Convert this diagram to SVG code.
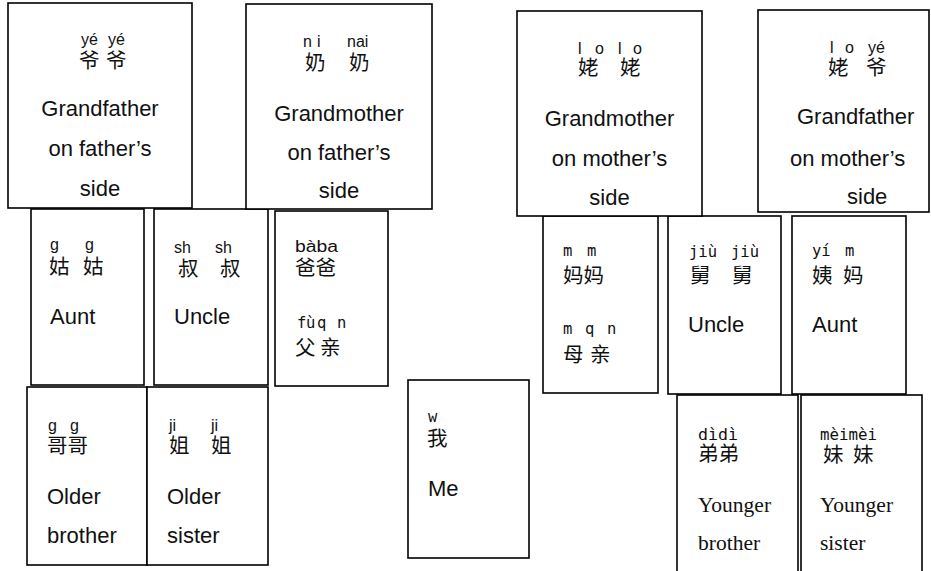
<svg xmlns="http://www.w3.org/2000/svg" width="931" height="571" viewBox="0 0 931 571">
<style>
.box{fill:#fff;stroke:#000;stroke-width:1.6}
.en{font-family:"Liberation Sans",Arial,sans-serif;font-size:22px;fill:#111}
.enc{font-family:"Liberation Sans",Arial,sans-serif;font-size:22px;fill:#111;text-anchor:middle}
.tr{font-family:"Liberation Serif","Times New Roman",serif;font-size:21.5px;fill:#111}
.zh{font-family:"Noto Sans CJK SC","Noto Sans CJK TC",sans-serif;font-size:20.5px;fill:#111}
.py{font-family:"Liberation Sans",Arial,sans-serif;font-size:16px;fill:#111}
.pm{font-family:"DejaVu Sans Mono",monospace;font-size:15.5px;fill:#111}
</style>
<rect width="931" height="571" fill="#fff"/>

<g id="gugu">
<rect class="box" x="31" y="209" width="113" height="176"/>
<text class="py" y="250"><tspan x="50">g</tspan><tspan x="85">g</tspan></text>
<text class="zh" y="274"><tspan x="49">姑</tspan><tspan x="83">姑</tspan></text>
<text class="en" x="50" y="324">Aunt</text>
</g>

<g id="shushu">
<rect class="box" x="154" y="209" width="114" height="176"/>
<text class="py" y="253" font-size="18"><tspan x="174">sh</tspan><tspan x="215">sh</tspan></text>
<text class="zh" y="276"><tspan x="178">叔</tspan><tspan x="220">叔</tspan></text>
<text class="en" x="174" y="324">Uncle</text>
</g>

<g id="baba">
<rect class="box" x="275" y="211" width="113" height="175"/>
<text class="py" x="295" y="252" font-size="18" textLength="43" lengthAdjust="spacingAndGlyphs">bàba</text>
<text class="zh" x="295" y="275" font-size="21.5">爸爸</text>
<text class="pm" y="328"><tspan x="297">f</tspan><tspan x="306">ù</tspan><tspan x="317">q</tspan><tspan x="337">n</tspan></text>
<text class="zh" y="355"><tspan x="295">父</tspan><tspan x="320">亲</tspan></text>
</g>

<g id="yeye">
<rect class="box" x="8" y="3" width="184" height="205"/>
<text class="py" y="45"><tspan x="81">yé</tspan><tspan x="108">yé</tspan></text>
<text class="zh" y="68"><tspan x="79">爷</tspan><tspan x="106">爷</tspan></text>
<text class="enc" x="100" y="116">Grandfather</text>
<text class="enc" x="100" y="156">on father’s</text>
<text class="enc" x="100" y="196">side</text>
</g>

<g id="nainai">
<rect class="box" x="246" y="4" width="186" height="205"/>
<text class="py" y="47" font-size="17"><tspan x="303">n</tspan><tspan x="317">i</tspan><tspan x="347">nai</tspan></text>
<text class="zh" y="70"><tspan x="305">奶</tspan><tspan x="349">奶</tspan></text>
<text class="enc" x="339" y="121">Grandmother</text>
<text class="enc" x="339" y="160">on father’s</text>
<text class="enc" x="339" y="198">side</text>
</g>

<g id="mama">
<rect class="box" x="543" y="216" width="115" height="177"/>
<text class="pm" y="256"><tspan x="563">m</tspan><tspan x="587">m</tspan></text>
<text class="zh" x="563" y="283" font-size="22">妈妈</text>
<text class="pm" y="334"><tspan x="563">m</tspan><tspan x="585">q</tspan><tspan x="607">n</tspan></text>
<text class="zh" y="362"><tspan x="563">母</tspan><tspan x="590">亲</tspan></text>
</g>

<g id="jiujiu">
<rect class="box" x="668" y="216" width="113" height="178"/>
<text class="pm" y="257"><tspan x="689">jiù</tspan><tspan x="731">jiù</tspan></text>
<text class="zh" y="283"><tspan x="690">舅</tspan><tspan x="732">舅</tspan></text>
<text class="en" x="688" y="332">Uncle</text>
</g>

<g id="yima">
<rect class="box" x="792" y="216" width="114" height="178"/>
<text class="pm" y="256"><tspan x="812">yí</tspan><tspan x="845">m</tspan></text>
<text class="zh" y="283"><tspan x="812">姨</tspan><tspan x="843">妈</tspan></text>
<text class="en" x="812" y="332">Aunt</text>
</g>

<g id="laolao">
<rect class="box" x="517" y="11" width="185" height="205"/>
<text class="py" y="54" font-size="17"><tspan x="578">l</tspan><tspan x="595">o</tspan><tspan x="618">l</tspan><tspan x="633">o</tspan></text>
<text class="zh" y="75"><tspan x="578">姥</tspan><tspan x="620">姥</tspan></text>
<text class="enc" x="609.5" y="126">Grandmother</text>
<text class="enc" x="609.5" y="166">on mother’s</text>
<text class="enc" x="609.5" y="205">side</text>
</g>

<g id="laoye">
<rect class="box" x="758" y="10" width="171" height="202"/>
<text class="py" y="53" font-size="17"><tspan x="830">l</tspan><tspan x="845">o</tspan><tspan x="868">yé</tspan></text>
<text class="zh" y="75"><tspan x="828">姥</tspan><tspan x="866">爷</tspan></text>
<text class="en" x="797" y="124">Grandfather</text>
<text class="en" x="790" y="166">on mother’s</text>
<text class="en" x="847" y="204">side</text>
</g>

<g id="gege">
<rect class="box" x="27" y="387" width="120" height="178"/>
<text class="py" y="431"><tspan x="48">g</tspan><tspan x="70">g</tspan></text>
<text class="zh" x="47" y="453" font-size="21.5">哥哥</text>
<text class="en" x="47" y="504">Older</text>
<text class="en" x="47" y="543">brother</text>
</g>

<g id="jiejie">
<rect class="box" x="147" y="387" width="121" height="178"/>
<text class="py" y="431"><tspan x="169">ji</tspan><tspan x="211">ji</tspan></text>
<text class="zh" y="453"><tspan x="169">姐</tspan><tspan x="211">姐</tspan></text>
<text class="en" x="167" y="504">Older</text>
<text class="en" x="167" y="543">sister</text>
</g>

<g id="me">
<rect class="box" x="408" y="380" width="121" height="178"/>
<text class="pm" x="428" y="422" font-size="12">w</text>
<text class="zh" x="427" y="446">我</text>
<text class="en" x="428" y="496">Me</text>
</g>

<g id="didi">
<rect class="box" x="677" y="395" width="121" height="185"/>
<text class="pm" x="698" y="440" textLength="40" lengthAdjust="spacingAndGlyphs">dìdì</text>
<text class="zh" x="698" y="461" font-size="21">弟弟</text>
<text class="tr" x="698" y="512">Younger</text>
<text class="tr" x="698" y="550">brother</text>
</g>

<g id="meimei">
<rect class="box" x="801" y="395" width="121" height="185"/>
<text class="pm" x="820" y="440" textLength="57" lengthAdjust="spacingAndGlyphs">mèimèi</text>
<text class="zh" y="462"><tspan x="823">妹</tspan><tspan x="853">妹</tspan></text>
<text class="tr" x="820" y="512">Younger</text>
<text class="tr" x="820" y="550">sister</text>
</g>
</svg>
